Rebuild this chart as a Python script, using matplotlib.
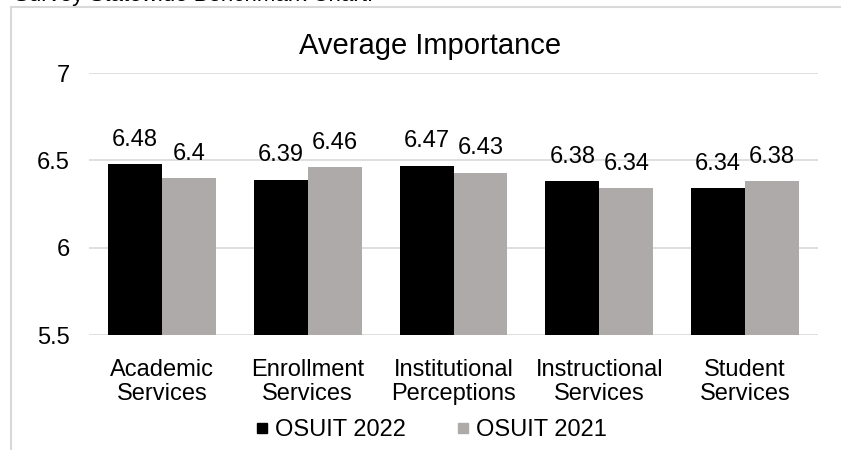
import matplotlib
matplotlib.use("Agg")
import matplotlib.pyplot as plt
from matplotlib.lines import Line2D
from matplotlib.patches import Rectangle
import numpy as np

plt.rcParams['font.family'] = ['Liberation Sans', 'DejaVu Sans']

# data
categories = ["Academic\nServices", "Enrollment\nServices", "Institutional\nPerceptions",
              "Instructional\nServices", "Student\nServices"]
osuit_2022 = [6.48, 6.39, 6.47, 6.38, 6.34]
osuit_2021 = [6.40, 6.46, 6.43, 6.34, 6.38]
y_ticks = [5.5, 6, 6.5, 7]
y_tick_labels = ["5.5", "6", "6.5", "7"]

black = "#000000"
gray = "#aeaaaa"
grid_color = "#d9d9d9"

fig = plt.figure(figsize=(8.41, 4.5), dpi=100)
ax = fig.add_axes([89 / 841, 1 - 335 / 450, (818 - 89) / 841, (335 - 73) / 450])

x = np.arange(len(categories))
w = 0.37
b1 = ax.bar(x - w / 2, [v - 5.5 for v in osuit_2022], w, bottom=5.5, color=black, zorder=3)
b2 = ax.bar(x + w / 2, [v - 5.5 for v in osuit_2021], w, bottom=5.5, color=gray, zorder=3)

# value labels above each bar
for bars, vals in ((b1, osuit_2022), (b2, osuit_2021)):
    for rect, v in zip(bars, vals):
        ax.annotate(f"{v:g}", (rect.get_x() + rect.get_width() / 2, v),
                    xytext=(0, 9.5), textcoords="offset points",
                    ha="center", va="bottom", fontsize=17, color="#000000")

ax.set_ylim(5.5, 7)
ax.set_xlim(-0.5, len(categories) - 0.5)
ax.set_yticks(y_ticks)
ax.set_yticklabels(y_tick_labels)
ax.set_xticks(x)
ax.set_xticklabels(categories, linespacing=1.12)
ax.tick_params(axis="both", length=0, labelsize=17, colors="#000000")
ax.tick_params(axis="x", pad=17)
ax.tick_params(axis="y", pad=14)
ax.grid(axis="y", color=grid_color, linewidth=1.2, zorder=1)
ax.set_axisbelow(True)
for s in ax.spines.values():
    s.set_visible(False)

fig.text(430 / 841, 1 - 54 / 450, "Average Importance", ha="center", va="baseline",
         fontsize=21, color="#000000")

# legend under the categories
handles = [Line2D([], [], linestyle="none", marker="s", markersize=7, color=black),
           Line2D([], [], linestyle="none", marker="s", markersize=7, color=gray)]
fig.legend(handles, ["OSUIT 2022", "OSUIT 2021"], loc="center", ncol=2,
           bbox_to_anchor=(432 / 841, 1 - 430 / 450), frameon=False, fontsize=17,
           handlelength=0.4, handletextpad=0.35, columnspacing=2.2, borderpad=0)

# chart border, running off the right and bottom edges
fig.patches.append(Rectangle((11 / 841, -0.1), 1.2, 1 - 7 / 450 + 0.1,
                             transform=fig.transFigure, fill=False,
                             edgecolor=grid_color, linewidth=1.5))

# caption above the chart, mostly cut off by the top edge
fig.text(14 / 841, 1 - 1 / 450, "Survey Statewide Benchmark Chart:", ha="left",
         va="baseline", fontsize=16, color="#000000")

fig.savefig("out.png", dpi=100)
